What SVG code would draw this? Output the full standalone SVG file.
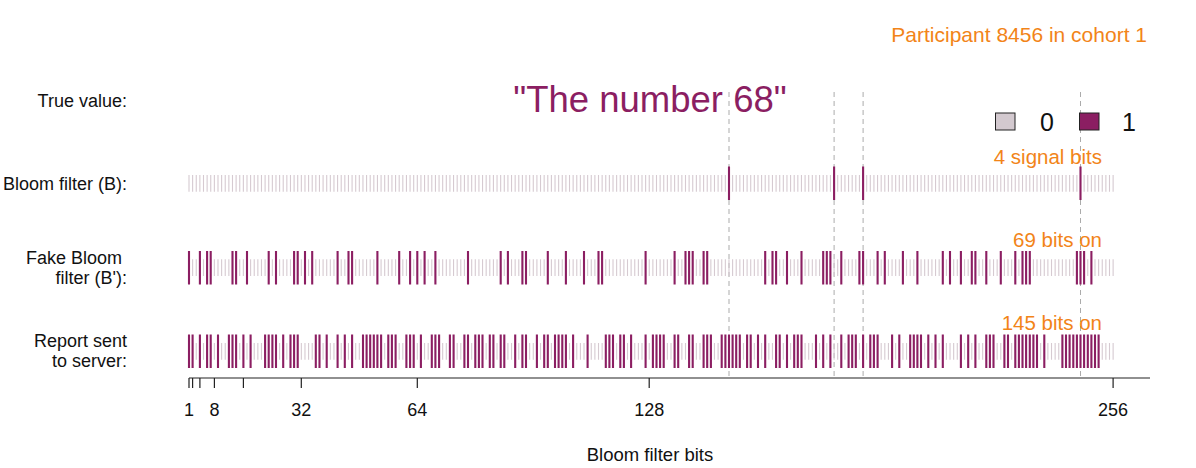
<svg xmlns="http://www.w3.org/2000/svg" width="1196" height="468" viewBox="0 0 1196 468">
<style>
text{font-family:"Liberation Sans",Arial,sans-serif;}
.lab{font-size:18px;fill:#111;text-anchor:end;}
.orange{font-size:20.5px;fill:#f28418;text-anchor:end;}
.tick{font-size:18px;fill:#111;text-anchor:middle;}
.off{stroke:#d6cad1;stroke-dasharray:1.1 2.524;fill:none;}
.on{stroke:#8b1e62;stroke-width:2.1;fill:none;}
.guide{stroke:#ababab;stroke-width:1;stroke-dasharray:5 4;fill:none;}
</style>
<rect width="1196" height="468" fill="#fff"/>

<g id="connectors">
  <path class="guide" d="M729 92V378M834.1 92V378M863.1 92V378M1080.5 92V378"/>
</g>

<g id="header">
  <text x="1147" y="41.5" style="font-size:21px;fill:#f28418;text-anchor:end;">Participant 8456 in cohort 1</text>
  <text x="650" y="112" style="font-size:36.5px;fill:#8b1e62;text-anchor:middle;">"The number 68"</text>
</g>

<g id="legend">
  <rect x="995.5" y="113" width="19.5" height="17" fill="#d3c9cf" stroke="#222" stroke-width="1"/>
  <text x="1047" y="131" style="font-size:25px;fill:#111;text-anchor:middle;">0</text>
  <rect x="1079.5" y="113" width="19.5" height="17" fill="#8b1e62" stroke="#222" stroke-width="1"/>
  <text x="1129" y="131" style="font-size:25px;fill:#111;text-anchor:middle;">1</text>
</g>

<g id="true-value">
  <text class="lab" x="127" y="107">True value:</text>
</g>

<g id="bloom-filter">
  <text class="lab" x="127" y="190">Bloom filter (B):</text>
  <line class="off" x1="188.45" y1="183.3" x2="1114" y2="183.3" stroke-width="16.7"/>
  <path class="on" d="M729 166.6v33.5M834.1 166.6v33.5M863.1 166.6v33.5M1080.5 166.6v33.5"/>
  <text class="orange" x="1102" y="164">4 signal bits</text>
</g>

<g id="fake-bloom-filter">
  <text class="lab" x="122" y="263.5">Fake Bloom</text>
  <text class="lab" x="127" y="284">filter (B'):</text>
  <line class="off" x1="188.45" y1="267.6" x2="1114" y2="267.6" stroke-width="16.7"/>
  <path class="on" d="M189 250.9v33.5M199.9 250.9v33.5M207.1 250.9v33.5M210.7 250.9v33.5M232.5 250.9v33.5M236.1 250.9v33.5M247 250.9v33.5M268.7 250.9v33.5M276 250.9v33.5M294.1 250.9v33.5M297.7 250.9v33.5M305 250.9v33.5M312.2 250.9v33.5M337.6 250.9v33.5M348.5 250.9v33.5M352.1 250.9v33.5M377.4 250.9v33.5M399.2 250.9v33.5M410.1 250.9v33.5M417.3 250.9v33.5M424.6 250.9v33.5M435.4 250.9v33.5M468 250.9v33.5M500.7 250.9v33.5M507.9 250.9v33.5M522.4 250.9v33.5M526 250.9v33.5M547.8 250.9v33.5M565.9 250.9v33.5M584 250.9v33.5M598.5 250.9v33.5M602.1 250.9v33.5M645.6 250.9v33.5M674.6 250.9v33.5M685.5 250.9v33.5M689.1 250.9v33.5M692.7 250.9v33.5M703.6 250.9v33.5M707.2 250.9v33.5M765.2 250.9v33.5M772.5 250.9v33.5M776.1 250.9v33.5M787 250.9v33.5M801.5 250.9v33.5M823.2 250.9v33.5M826.8 250.9v33.5M830.4 250.9v33.5M841.3 250.9v33.5M859.4 250.9v33.5M863.1 250.9v33.5M877.6 250.9v33.5M884.8 250.9v33.5M902.9 250.9v33.5M917.4 250.9v33.5M942.8 250.9v33.5M950 250.9v33.5M960.9 250.9v33.5M971.8 250.9v33.5M975.4 250.9v33.5M986.3 250.9v33.5M1000.8 250.9v33.5M1015.3 250.9v33.5M1022.5 250.9v33.5M1026.1 250.9v33.5M1029.8 250.9v33.5M1076.9 250.9v33.5M1080.5 250.9v33.5M1084.1 250.9v33.5M1091.4 250.9v33.5"/>
  <text class="orange" x="1102" y="247">69 bits on</text>
</g>

<g id="report">
  <text class="lab" x="127" y="346.5">Report sent</text>
  <text class="lab" x="127" y="367">to server:</text>
  <line class="off" x1="188.45" y1="351.3" x2="1114" y2="351.3" stroke-width="16.7"/>
  <path class="on" d="M189 334.5v33.5M192.6 334.5v33.5M199.9 334.5v33.5M207.1 334.5v33.5M210.7 334.5v33.5M218 334.5v33.5M228.9 334.5v33.5M232.5 334.5v33.5M236.1 334.5v33.5M243.4 334.5v33.5M250.6 334.5v33.5M265.1 334.5v33.5M268.7 334.5v33.5M272.4 334.5v33.5M276 334.5v33.5M283.2 334.5v33.5M290.5 334.5v33.5M294.1 334.5v33.5M297.7 334.5v33.5M315.8 334.5v33.5M319.5 334.5v33.5M326.7 334.5v33.5M337.6 334.5v33.5M344.8 334.5v33.5M352.1 334.5v33.5M363 334.5v33.5M366.6 334.5v33.5M370.2 334.5v33.5M373.8 334.5v33.5M377.4 334.5v33.5M381.1 334.5v33.5M388.3 334.5v33.5M391.9 334.5v33.5M395.6 334.5v33.5M406.4 334.5v33.5M410.1 334.5v33.5M413.7 334.5v33.5M420.9 334.5v33.5M431.8 334.5v33.5M435.4 334.5v33.5M439.1 334.5v33.5M449.9 334.5v33.5M453.6 334.5v33.5M464.4 334.5v33.5M468 334.5v33.5M475.3 334.5v33.5M478.9 334.5v33.5M482.5 334.5v33.5M489.8 334.5v33.5M493.4 334.5v33.5M500.7 334.5v33.5M504.3 334.5v33.5M515.2 334.5v33.5M522.4 334.5v33.5M526 334.5v33.5M536.9 334.5v33.5M544.2 334.5v33.5M547.8 334.5v33.5M555 334.5v33.5M558.6 334.5v33.5M562.3 334.5v33.5M565.9 334.5v33.5M573.1 334.5v33.5M587.6 334.5v33.5M605.8 334.5v33.5M609.4 334.5v33.5M613 334.5v33.5M620.3 334.5v33.5M623.9 334.5v33.5M631.1 334.5v33.5M645.6 334.5v33.5M652.9 334.5v33.5M656.5 334.5v33.5M660.1 334.5v33.5M663.7 334.5v33.5M674.6 334.5v33.5M678.2 334.5v33.5M689.1 334.5v33.5M692.7 334.5v33.5M703.6 334.5v33.5M707.2 334.5v33.5M710.9 334.5v33.5M721.7 334.5v33.5M725.4 334.5v33.5M729 334.5v33.5M732.6 334.5v33.5M736.2 334.5v33.5M739.8 334.5v33.5M747.1 334.5v33.5M750.7 334.5v33.5M758 334.5v33.5M765.2 334.5v33.5M776.1 334.5v33.5M779.7 334.5v33.5M787 334.5v33.5M794.2 334.5v33.5M797.8 334.5v33.5M801.5 334.5v33.5M816 334.5v33.5M823.2 334.5v33.5M830.4 334.5v33.5M841.3 334.5v33.5M848.6 334.5v33.5M852.2 334.5v33.5M855.8 334.5v33.5M863.1 334.5v33.5M870.3 334.5v33.5M873.9 334.5v33.5M877.6 334.5v33.5M892.1 334.5v33.5M899.3 334.5v33.5M910.2 334.5v33.5M913.8 334.5v33.5M917.4 334.5v33.5M921 334.5v33.5M928.3 334.5v33.5M935.5 334.5v33.5M942.8 334.5v33.5M960.9 334.5v33.5M968.2 334.5v33.5M975.4 334.5v33.5M986.3 334.5v33.5M989.9 334.5v33.5M993.5 334.5v33.5M1004.4 334.5v33.5M1008 334.5v33.5M1015.3 334.5v33.5M1018.9 334.5v33.5M1022.5 334.5v33.5M1026.1 334.5v33.5M1029.8 334.5v33.5M1033.4 334.5v33.5M1037 334.5v33.5M1044.3 334.5v33.5M1062.4 334.5v33.5M1066 334.5v33.5M1069.6 334.5v33.5M1073.3 334.5v33.5M1076.9 334.5v33.5M1080.5 334.5v33.5M1084.1 334.5v33.5M1087.8 334.5v33.5M1091.4 334.5v33.5M1095 334.5v33.5M1098.6 334.5v33.5"/>
  <text class="orange" x="1102" y="330">145 bits on</text>
</g>

<g id="axis">
  <path d="M189 378H1150M189 378v10M192.6 378v10M199.9 378v10M214.4 378v10M243.4 378v10M301.3 378v10M417.3 378v10M649.2 378v10M1113.1 378v10" stroke="#222" stroke-width="1.2" fill="none"/>
  <text class="tick" x="189" y="416">1</text>
  <text class="tick" x="214.4" y="416">8</text>
  <text class="tick" x="301.3" y="416">32</text>
  <text class="tick" x="417.3" y="416">64</text>
  <text class="tick" x="649.2" y="416">128</text>
  <text class="tick" x="1113.1" y="416">256</text>
  <text x="650" y="461" style="font-size:18.5px;fill:#111;text-anchor:middle;">Bloom filter bits</text>
</g>
</svg>
